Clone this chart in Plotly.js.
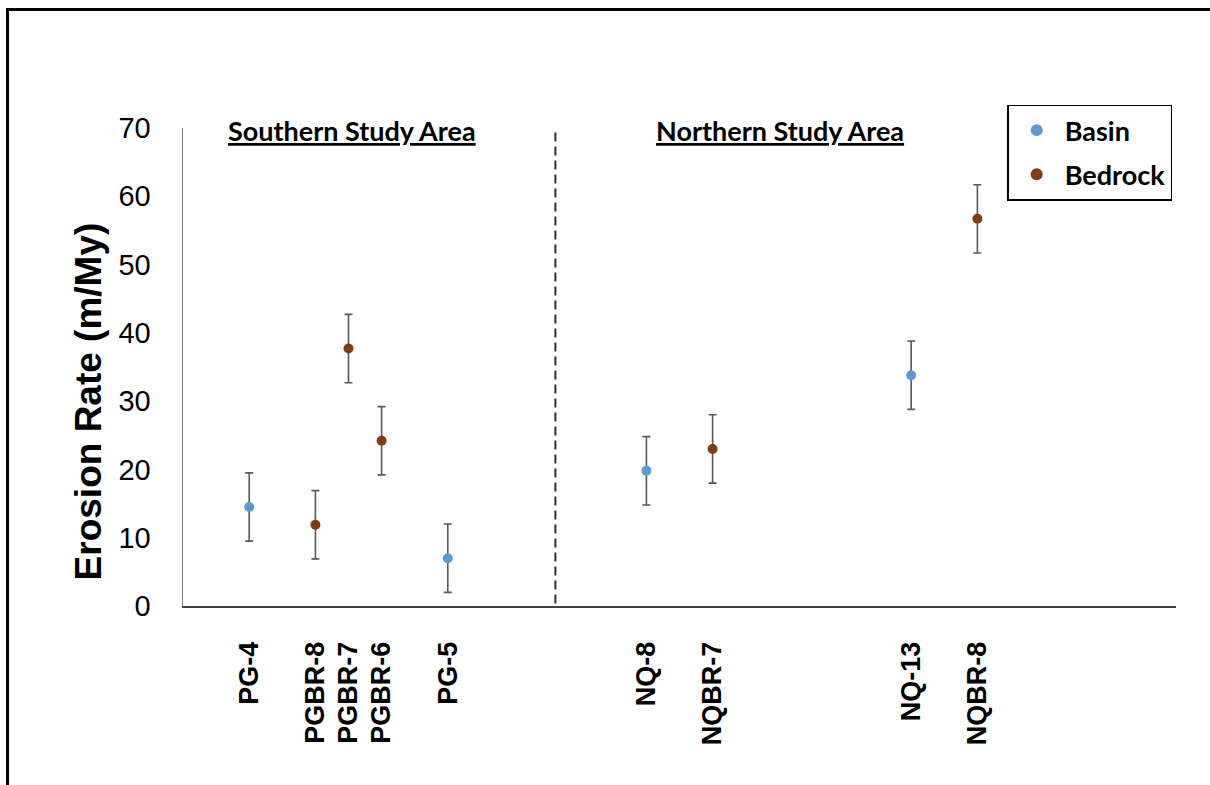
<!DOCTYPE html>
<html>
<head>
<meta charset="utf-8">
<script src="https://cdn.plot.ly/plotly-3.0.1.min.js"></script>
<style>
  html, body { margin: 0; padding: 0; background: #fff; }
  #wrap { position: relative; width: 1210px; height: 785px; overflow: hidden; }
  #chart { width: 1210px; height: 785px; }
  #frame { position: absolute; left: 6px; top: 8px; width: 1300px; height: 900px;
           border-top: 3px solid #000; border-left: 3px solid #000; pointer-events: none; }
</style>
</head>
<body>
<div id="wrap">
  <div id="chart"></div>
  <div id="frame"></div>
</div>
<script>
// ---- data ----
const sampleLabels = ['PG-4', 'PGBR-8', 'PGBR-7', 'PGBR-6', 'PG-5', 'NQ-8', 'NQBR-7', 'NQ-13', 'NQBR-8'];
const sampleSlots  = [2, 4, 5, 6, 8, 14, 16, 22, 24];

const basinSlots  = [2, 8, 14, 22];
const basinRates  = [14.5, 7.0, 19.8, 33.8];
const basinErrors = [5, 5, 5, 5];

const bedrockSlots  = [4, 5, 6, 16, 24];
const bedrockRates  = [11.9, 37.7, 24.2, 23.0, 56.7];
const bedrockErrors = [5, 5, 5, 5, 5];

const yTicks = [0, 10, 20, 30, 40, 50, 60, 70];
const yTitle = 'Erosion Rate (m/My)';
const dividerSlot = 11.25;
const areaLabels = ['Southern Study Area', 'Northern Study Area'];
const areaLabelSlots = [5.1, 18.05];

// ---- styles ----
const errStyle = (arr) => ({ type: 'data', array: arr, visible: true, color: '#595959', thickness: 1.6, width: 4 });

const traces = [
  {
    name: 'Basin', x: basinSlots, y: basinRates, type: 'scatter', mode: 'markers',
    marker: { color: '#5B9BD5', size: 10 },
    error_y: errStyle(basinErrors), legendgroup: 'a'
  },
  {
    name: 'Bedrock', x: bedrockSlots, y: bedrockRates, type: 'scatter', mode: 'markers',
    marker: { color: '#843C0C', size: 10 },
    error_y: errStyle(bedrockErrors), legendgroup: 'b'
  }
];

const sectionAnnotations = areaLabels.map((t, i) => ({
  text: '<u>' + t + '</u>', xref: 'x', yref: 'paper', x: areaLabelSlots[i], y: 0.995,
  xanchor: 'center', yanchor: 'middle', showarrow: false,
  font: { family: 'Lato, sans-serif', size: 27, color: '#000', weight: 'bold' }
}));

const layout = {
  width: 1210, height: 785,
  margin: { l: 183, r: 34, t: 128, b: 179 },
  paper_bgcolor: '#fff', plot_bgcolor: '#fff',
  showlegend: true,
  legend: {
    x: 0.83, y: 1.049, xanchor: 'left', yanchor: 'top',
    bordercolor: '#000', borderwidth: 1.5, bgcolor: '#fff',
    font: { family: 'Lato, sans-serif', size: 27, color: '#000', weight: 'bold' },
    tracegroupgap: 6, itemsizing: 'constant', itemwidth: 46
  },
  xaxis: {
    range: [0, 30], showgrid: false, zeroline: false,
    showline: true, linecolor: '#404040', linewidth: 2,
    tickmode: 'array', tickvals: sampleSlots, ticktext: sampleLabels,
    tickangle: -90, ticks: '', ticklabelstandoff: 23,
    tickfont: { family: 'Liberation Sans, Arial, sans-serif', size: 27, color: '#000', weight: 'bold' },
    fixedrange: true
  },
  yaxis: {
    range: [0, 70], showgrid: false, zeroline: false,
    showline: true, linecolor: '#7f7f7f', linewidth: 1.5,
    tickmode: 'array', tickvals: yTicks, ticks: '', ticklabelstandoff: 25,
    tickfont: { family: 'Liberation Sans, Arial, sans-serif', size: 29, color: '#000' },
    fixedrange: true
  },
  shapes: [
    { type: 'line', xref: 'x', yref: 'paper', x0: dividerSlot, x1: dividerSlot, y0: 0.005, y1: 0.995,
      line: { color: '#303030', width: 2, dash: '9px,5px' } }
  ],
  annotations: sectionAnnotations.concat([{
    text: yTitle, xref: 'paper', yref: 'paper', x: -0.0957, y: 0.428,
    xanchor: 'center', yanchor: 'middle', textangle: -90, showarrow: false,
    font: { family: 'Liberation Sans, Arial, sans-serif', size: 37, color: '#000', weight: 'bold' }
  }])
};

Plotly.newPlot('chart', traces, layout, { displayModeBar: false, staticPlot: true });
</script>
</body>
</html>
